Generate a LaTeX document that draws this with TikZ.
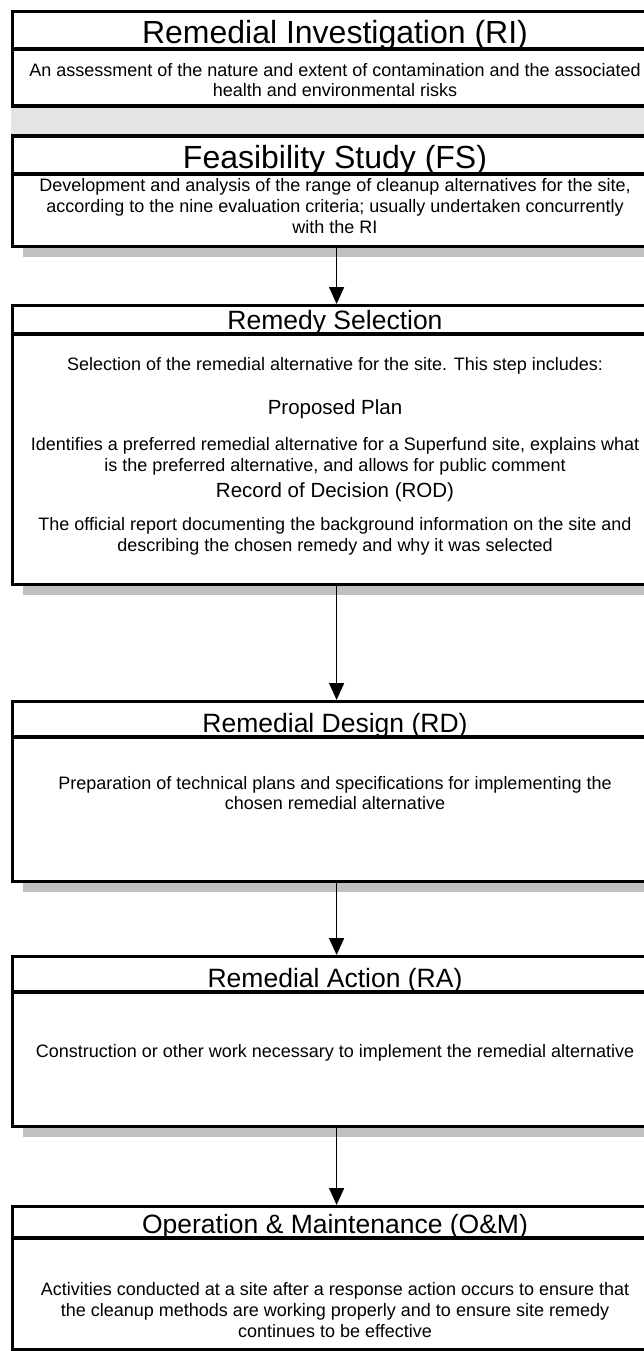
\documentclass[tikz,border=0pt]{standalone}
\usepackage{fontspec}
\setmainfont{Liberation Sans}
\usetikzlibrary{arrows.meta,shadows}
\definecolor{shadowgray}{RGB}{192,192,192}
\definecolor{bandgray}{RGB}{228,228,228}
\begin{document}
\begin{tikzpicture}[x=1pt,y=1pt,
  frame/.style={draw=black, line width=3.2pt, fill=white, inner sep=0pt, anchor=north west, minimum width=648pt,
    drop shadow={shadow xshift=10pt, shadow yshift=-10pt, fill=shadowgray, opacity=1}},
  rule/.style={line width=3.2pt},
  bigtitle/.style={font=\fontsize{32}{36}\selectfont, inner sep=0pt, anchor=base},
  title/.style={font=\fontsize{26.5}{30}\selectfont, inner sep=0pt, anchor=base},
  subtitle/.style={font=\fontsize{20.5}{24}\selectfont, inner sep=0pt},
  body/.style={font=\fontsize{18}{20.7}\selectfont, align=center, inner sep=0pt},
  arr/.style={line width=1.5pt, -{Triangle[length=17pt,width=15pt]}}]
\useasboundingbox (0,0) rectangle (644,-1351);
\clip (0,0) rectangle (644,-1351);
% Box 1
\node[frame, minimum height=235pt] (b1) at (11,-10) {};
\draw[rule] (11,-49) -- (670,-49);
\fill[bandgray] (11,-106) rectangle (670,-136);
\draw[rule] (11,-106) -- (670,-106);
\draw[rule] (11,-136) -- (670,-136);
\draw[rule] (11,-174) -- (670,-174);
\node[bigtitle] (t1) at (335,-44) {Remedial Investigation (RI)};
\node[body] (d1) at (335,-80) {An assessment of the nature and extent of contamination and the associated\\health and environmental risks};
\node[bigtitle] (t1b) at (335,-169) {Feasibility Study (FS)};
\node[body] (d1b) at (335,-206) {Development and analysis of the range of cleanup alternatives for the site,\\according to the nine evaluation criteria; usually undertaken concurrently\\with the RI};
% Box 2
\node[frame, minimum height=279pt] (b2) at (11,-304) {};
\draw[rule] (11,-334) -- (670,-334);
\node[title] (t2) at (335,-329) {Remedy Selection};
\node[body] (d2) at (335,-366) {Selection of the remedial alternative for the site. This step includes:};
\node[subtitle] (s2a) at (335,-409) {Proposed Plan};
\node[body] (d2a) at (335,-456) {Identifies a preferred remedial alternative for a Superfund site, explains what\\is the preferred alternative, and allows for public comment};
\node[subtitle] (s2b) at (335,-492) {Record of Decision (ROD)};
\node[body] (d2b) at (335,-536) {The official report documenting the background information on the site and\\describing the chosen remedy and why it was selected};
% Box 3
\node[frame, minimum height=180pt] (b3) at (11,-700) {};
\draw[rule] (11,-737) -- (670,-737);
\node[title] (t3) at (335,-732) {Remedial Design (RD)};
\node[body] (d3) at (335,-793) {Preparation of technical plans and specifications for implementing the\\chosen remedial alternative};
% Box 4
\node[frame, minimum height=170pt] (b4) at (11,-955) {};
\draw[rule] (11,-992) -- (670,-992);
\node[title] (t4) at (335,-987) {Remedial Action (RA)};
\node[body] (d4) at (335,-1053) {Construction or other work necessary to implement the remedial alternative};
% Box 5
\node[frame, minimum height=143pt] (b5) at (11,-1205) {};
\draw[rule] (11,-1238) -- (670,-1238);
\node[title] (t5) at (335,-1233) {Operation \& Maintenance (O\&M)};
\node[body] (d5) at (335,-1310) {Activities conducted at a site after a response action occurs to ensure that\\the cleanup methods are working properly and to ensure site remedy\\continues to be effective};
% Arrows
\draw[arr] (b1.south) -- (b2.north);
\draw[arr] (b2.south) -- (b3.north);
\draw[arr] (b3.south) -- (b4.north);
\draw[arr] (b4.south) -- (b5.north);
\end{tikzpicture}
\end{document}
